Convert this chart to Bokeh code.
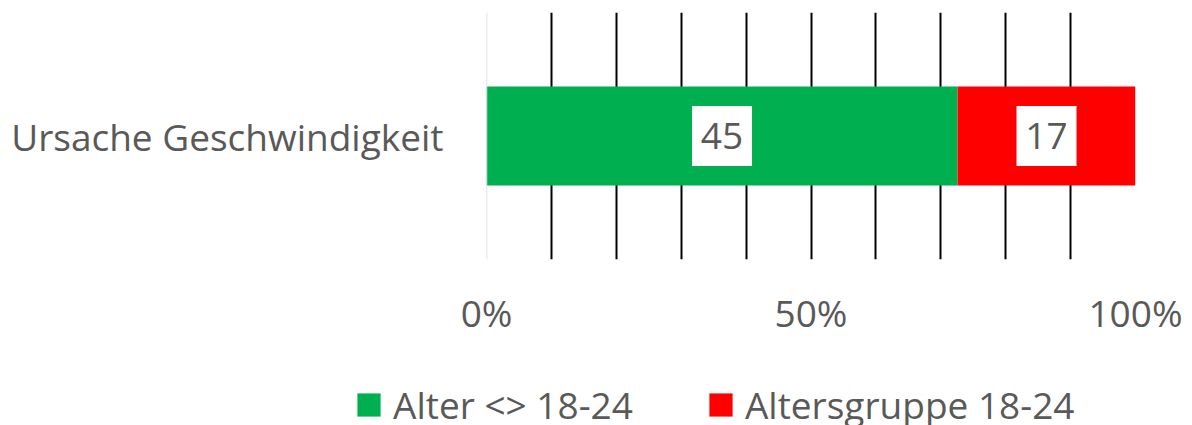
import numpy as np
from bokeh.plotting import figure
from bokeh.layouts import column
from bokeh.models import (ColumnDataSource, FixedTicker, NumeralTickFormatter, Span,
                          Legend, LegendItem, Range1d, FactorRange)
from bokeh.core.properties import value
from bokeh.embed import file_html
from bokeh.resources import INLINE

# ---- data ----
categories = ["Ursache Geschwindigkeit"]
series_names = ["Alter <> 18-24", "Altersgruppe 18-24"]
alter_other = [45]
alter_18_24 = [17]
x_ticks = [0, 0.5, 1.0]
grid_ticks = [0.1, 0.2, 0.3, 0.4, 0.5, 0.6, 0.7, 0.8, 0.9, 1.0]

colors = ["#00B050", "#FF0000"]
FONT = "Open Sans"
TXT = "#595959"
FS = "37px"

a = np.array(alter_other, dtype=float)
b = np.array(alter_18_24, dtype=float)
tot = a + b
f1 = a / tot
f2 = b / tot

src = ColumnDataSource(dict(
    cat=categories,
    l1=np.zeros_like(f1), r1=f1,
    l2=f1, r2=f1 + f2,
    c1=f1 / 2, c2=f1 + f2 / 2,
    t1=[str(v) for v in alter_other],
    t2=[str(v) for v in alter_18_24],
))

p = figure(frame_width=649, frame_height=247,
           y_range=FactorRange(*categories, range_padding=0),
           x_range=Range1d(0, 1),
           output_backend="svg", toolbar_location=None,
           min_border_left=486, min_border_right=57,
           min_border_top=12, min_border_bottom=80)
p.outline_line_color = None
p.background_fill_color = "white"

# grid
p.ygrid.grid_line_color = None
p.xgrid.ticker = FixedTicker(ticks=grid_ticks)
p.xgrid.grid_line_color = "black"
p.xgrid.grid_line_width = 2
zero = Span(location=0, dimension="height", line_color="#D9D9D9", line_width=1.5)
p.add_layout(zero)

r1 = p.hbar(y="cat", left="l1", right="r1", height=0.4, source=src,
            fill_color=colors[0], line_color=None)
r2 = p.hbar(y="cat", left="l2", right="r2", height=0.4, source=src,
            fill_color=colors[1], line_color=None)

# data labels
for cx, tx in (("c1", "t1"), ("c2", "t2")):
    p.rect(x=cx, y="cat", width=60, height=60, width_units="screen",
           height_units="screen", source=src, fill_color="white", line_color=None)
    p.text(x=cx, y="cat", text=tx, source=src, text_align="center",
           text_baseline="middle", text_font=value(FONT), text_font_size=FS,
           text_color=TXT)

# axes
p.xaxis.ticker = FixedTicker(ticks=x_ticks)
p.xaxis.formatter = NumeralTickFormatter(format="0%")
p.xaxis.axis_line_color = None
p.xaxis.major_tick_line_color = None
p.xaxis.minor_tick_line_color = None
p.xaxis.major_tick_out = 0
p.xaxis.major_label_text_font = FONT
p.xaxis.major_label_text_font_size = FS
p.xaxis.major_label_text_color = TXT
p.xaxis.major_label_standoff = 27

p.yaxis.axis_line_color = None
p.yaxis.major_tick_line_color = None
p.yaxis.minor_tick_line_color = None
p.yaxis.major_label_text_font = FONT
p.yaxis.major_label_text_font_size = FS
p.yaxis.major_label_text_color = TXT
p.yaxis.major_label_standoff = 37

# ---- legend strip (separate figure below the chart) ----
# zero-height bars outside its x range: only the legend entries show
leg_h = 86
q = figure(frame_width=1192, frame_height=leg_h, x_range=Range1d(2, 3),
           y_range=FactorRange(*categories), output_backend="svg",
           toolbar_location=None, min_border=0)
q.axis.visible = False
q.grid.grid_line_color = None
q.outline_line_color = None
lr1 = q.hbar(y="cat", left="l1", right="r1", height=0, source=src,
             fill_color=colors[0], line_color=None)
lr2 = q.hbar(y="cat", left="l2", right="r2", height=0, source=src,
             fill_color=colors[1], line_color=None)

legend = Legend(items=[LegendItem(label=series_names[0], renderers=[lr1]),
                       LegendItem(label=series_names[1], renderers=[lr2])],
                orientation="horizontal", location=(354, -4),
                glyph_width=29, glyph_height=29, label_standoff=10,
                spacing=73, padding=0, margin=0, border_line_color=None,
                background_fill_alpha=0,
                label_text_font=FONT, label_text_font_size=FS,
                label_text_color=TXT, label_height=23)
q.add_layout(legend, "center")

layout = column(p, q, spacing=0)
open("out.html", "w").write(file_html(layout, INLINE))
